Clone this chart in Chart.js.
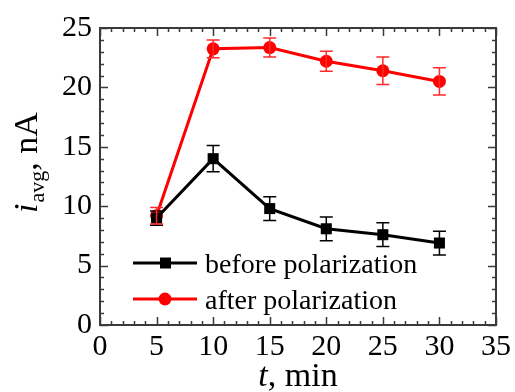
<!DOCTYPE html>
<html>
<head>
<meta charset="utf-8">
<script src="https://cdn.jsdelivr.net/npm/chart.js@4.4.0/dist/chart.umd.min.js"></script>
<style>
html,body{margin:0;padding:0;background:#fff;}
</style>
</head>
<body>
<canvas id="c" width="515" height="392"></canvas>
<script>
const times = [5, 10, 15, 20, 25, 30];
const beforeVals = [9.0, 14.0, 9.8, 8.1, 7.6, 6.9];
const beforeErr = [0.6, 1.1, 1.0, 1.0, 1.0, 1.0];
const afterVals = [9.2, 23.25, 23.35, 22.2, 21.4, 20.5];
const afterErr = [0.7, 0.75, 0.8, 0.85, 1.15, 1.15];
const legendLabels = ['before polarization', 'after polarization'];
const xTitle = ['t', ', min'];
const yTitle = ['i', 'avg', ', nA'];

const FONT = '"Liberation Serif", "DejaVu Serif", serif';

const framePlugin = {
  id: 'frame',
  beforeDatasetsDraw(chart) {
    const ctx = chart.ctx, a = chart.chartArea;
    const xs = chart.scales.x, ys = chart.scales.y;
    ctx.save();
    ctx.strokeStyle = '#3a3a3a';
    ctx.lineWidth = 1.5;
    // ticks
    for (let v = xs.min; v <= xs.max + 1e-9; v += 1) {
      const px = Math.round(xs.getPixelForValue(v)) + 0.5;
      const len = (Math.round(v) % 5 === 0) ? 8 : 4;
      ctx.beginPath();
      ctx.moveTo(px, a.bottom); ctx.lineTo(px, a.bottom - len);
      ctx.moveTo(px, a.top); ctx.lineTo(px, a.top + len);
      ctx.stroke();
    }
    for (let v = ys.min; v <= ys.max + 1e-9; v += 1) {
      const py = Math.round(ys.getPixelForValue(v)) + 0.5;
      const len = (Math.round(v) % 5 === 0) ? 8 : 4;
      ctx.beginPath();
      ctx.moveTo(a.left, py); ctx.lineTo(a.left + len, py);
      ctx.moveTo(a.right, py); ctx.lineTo(a.right - len, py);
      ctx.stroke();
    }
    ctx.lineWidth = 2;
    ctx.strokeRect(a.left, a.top, a.right - a.left, a.bottom - a.top);
    ctx.restore();
  },
  afterDatasetsDraw(chart) {
    const ctx = chart.ctx;
    const xs = chart.scales.x, ys = chart.scales.y;
    const sets = [[beforeVals, beforeErr, '#000000'], [afterVals, afterErr, '#ff2a2a']];
    ctx.save();
    ctx.lineWidth = 1.5;
    sets.forEach(([vals, errs, col]) => {
      ctx.strokeStyle = col;
      vals.forEach((v, i) => {
        const px = xs.getPixelForValue(times[i]);
        const top = ys.getPixelForValue(v + errs[i]);
        const bot = ys.getPixelForValue(v - errs[i]);
        ctx.beginPath();
        ctx.moveTo(px, top); ctx.lineTo(px, bot);
        ctx.moveTo(px - 6.5, top); ctx.lineTo(px + 6.5, top);
        ctx.moveTo(px - 6.5, bot); ctx.lineTo(px + 6.5, bot);
        ctx.stroke();
      });
    });
    ctx.restore();
  },
  afterDraw(chart) {
    const ctx = chart.ctx, a = chart.chartArea;
    ctx.save();
    ctx.fillStyle = '#000';
    // legend
    const rows = [[263, '#000', 'rect'], [299, '#ff0000', 'circle']];
    rows.forEach(([y, col, shape], i) => {
      ctx.strokeStyle = col; ctx.fillStyle = col; ctx.lineWidth = 3;
      ctx.beginPath(); ctx.moveTo(133, y); ctx.lineTo(197, y); ctx.stroke();
      if (shape === 'rect') { ctx.fillRect(160, y - 5.5, 11, 11); }
      else { ctx.beginPath(); ctx.arc(165, y, 6.5, 0, Math.PI * 2); ctx.fill(); }
      ctx.fillStyle = '#000';
      ctx.font = '28px ' + FONT;
      ctx.textAlign = 'left'; ctx.textBaseline = 'alphabetic';
      ctx.fillText(legendLabels[i], 205, y + 10);
    });
    // x title
    ctx.font = 'italic 34px ' + FONT;
    const w1 = ctx.measureText(xTitle[0]).width;
    ctx.font = '34px ' + FONT;
    const w2 = ctx.measureText(xTitle[1]).width;
    const cx = (a.left + a.right) / 2;
    let sx = cx - (w1 + w2) / 2;
    ctx.textAlign = 'left'; ctx.textBaseline = 'alphabetic';
    ctx.font = 'italic 34px ' + FONT; ctx.fillText(xTitle[0], sx, 386);
    ctx.font = '34px ' + FONT; ctx.fillText(xTitle[1], sx + w1, 386);
    // y title
    ctx.translate(37, 213);
    ctx.rotate(-Math.PI / 2);
    let p = 0;
    ctx.font = 'italic 34px ' + FONT; ctx.fillText(yTitle[0], p, 0); p += ctx.measureText(yTitle[0]).width + 1;
    ctx.font = '22px ' + FONT; ctx.fillText(yTitle[1], p, 7); p += ctx.measureText(yTitle[1]).width;
    ctx.font = '34px ' + FONT; ctx.fillText(yTitle[2], p, 0);
    ctx.restore();
  }
};

new Chart(document.getElementById('c'), {
  type: 'line',
  data: {
    datasets: [
      {
        label: legendLabels[0],
        data: times.map((t, i) => ({ x: t, y: beforeVals[i] })),
        borderColor: '#000', backgroundColor: '#000', borderWidth: 3,
        pointStyle: 'rect', pointRadius: 7.8, pointHoverRadius: 7.8, pointBorderWidth: 0,
        tension: 0
      },
      {
        label: legendLabels[1],
        data: times.map((t, i) => ({ x: t, y: afterVals[i] })),
        borderColor: '#ff0000', backgroundColor: '#ff0000', borderWidth: 3,
        pointStyle: 'circle', pointRadius: 6.5, pointHoverRadius: 6.5, pointBorderWidth: 0,
        tension: 0
      }
    ]
  },
  options: {
    responsive: false,
    animation: false,
    events: [],
    layout: { padding: { top: 28, right: 18, left: 0, bottom: 0 } },
    plugins: { legend: { display: false }, tooltip: { enabled: false } },
    scales: {
      x: {
        type: 'linear', min: 0, max: 35,
        grid: { display: false, drawTicks: false },
        border: { display: false },
        ticks: { stepSize: 5, color: '#000', padding: 4, font: { family: FONT, size: 30 } },
        afterFit(s) { s.height = 67; }
      },
      y: {
        min: 0, max: 25,
        grid: { display: false, drawTicks: false },
        border: { display: false },
        ticks: { stepSize: 5, color: '#000', padding: 8, font: { family: FONT, size: 30 } },
        afterFit(s) { s.width = 100; }
      }
    }
  },
  plugins: [framePlugin]
});
</script>
</body>
</html>
